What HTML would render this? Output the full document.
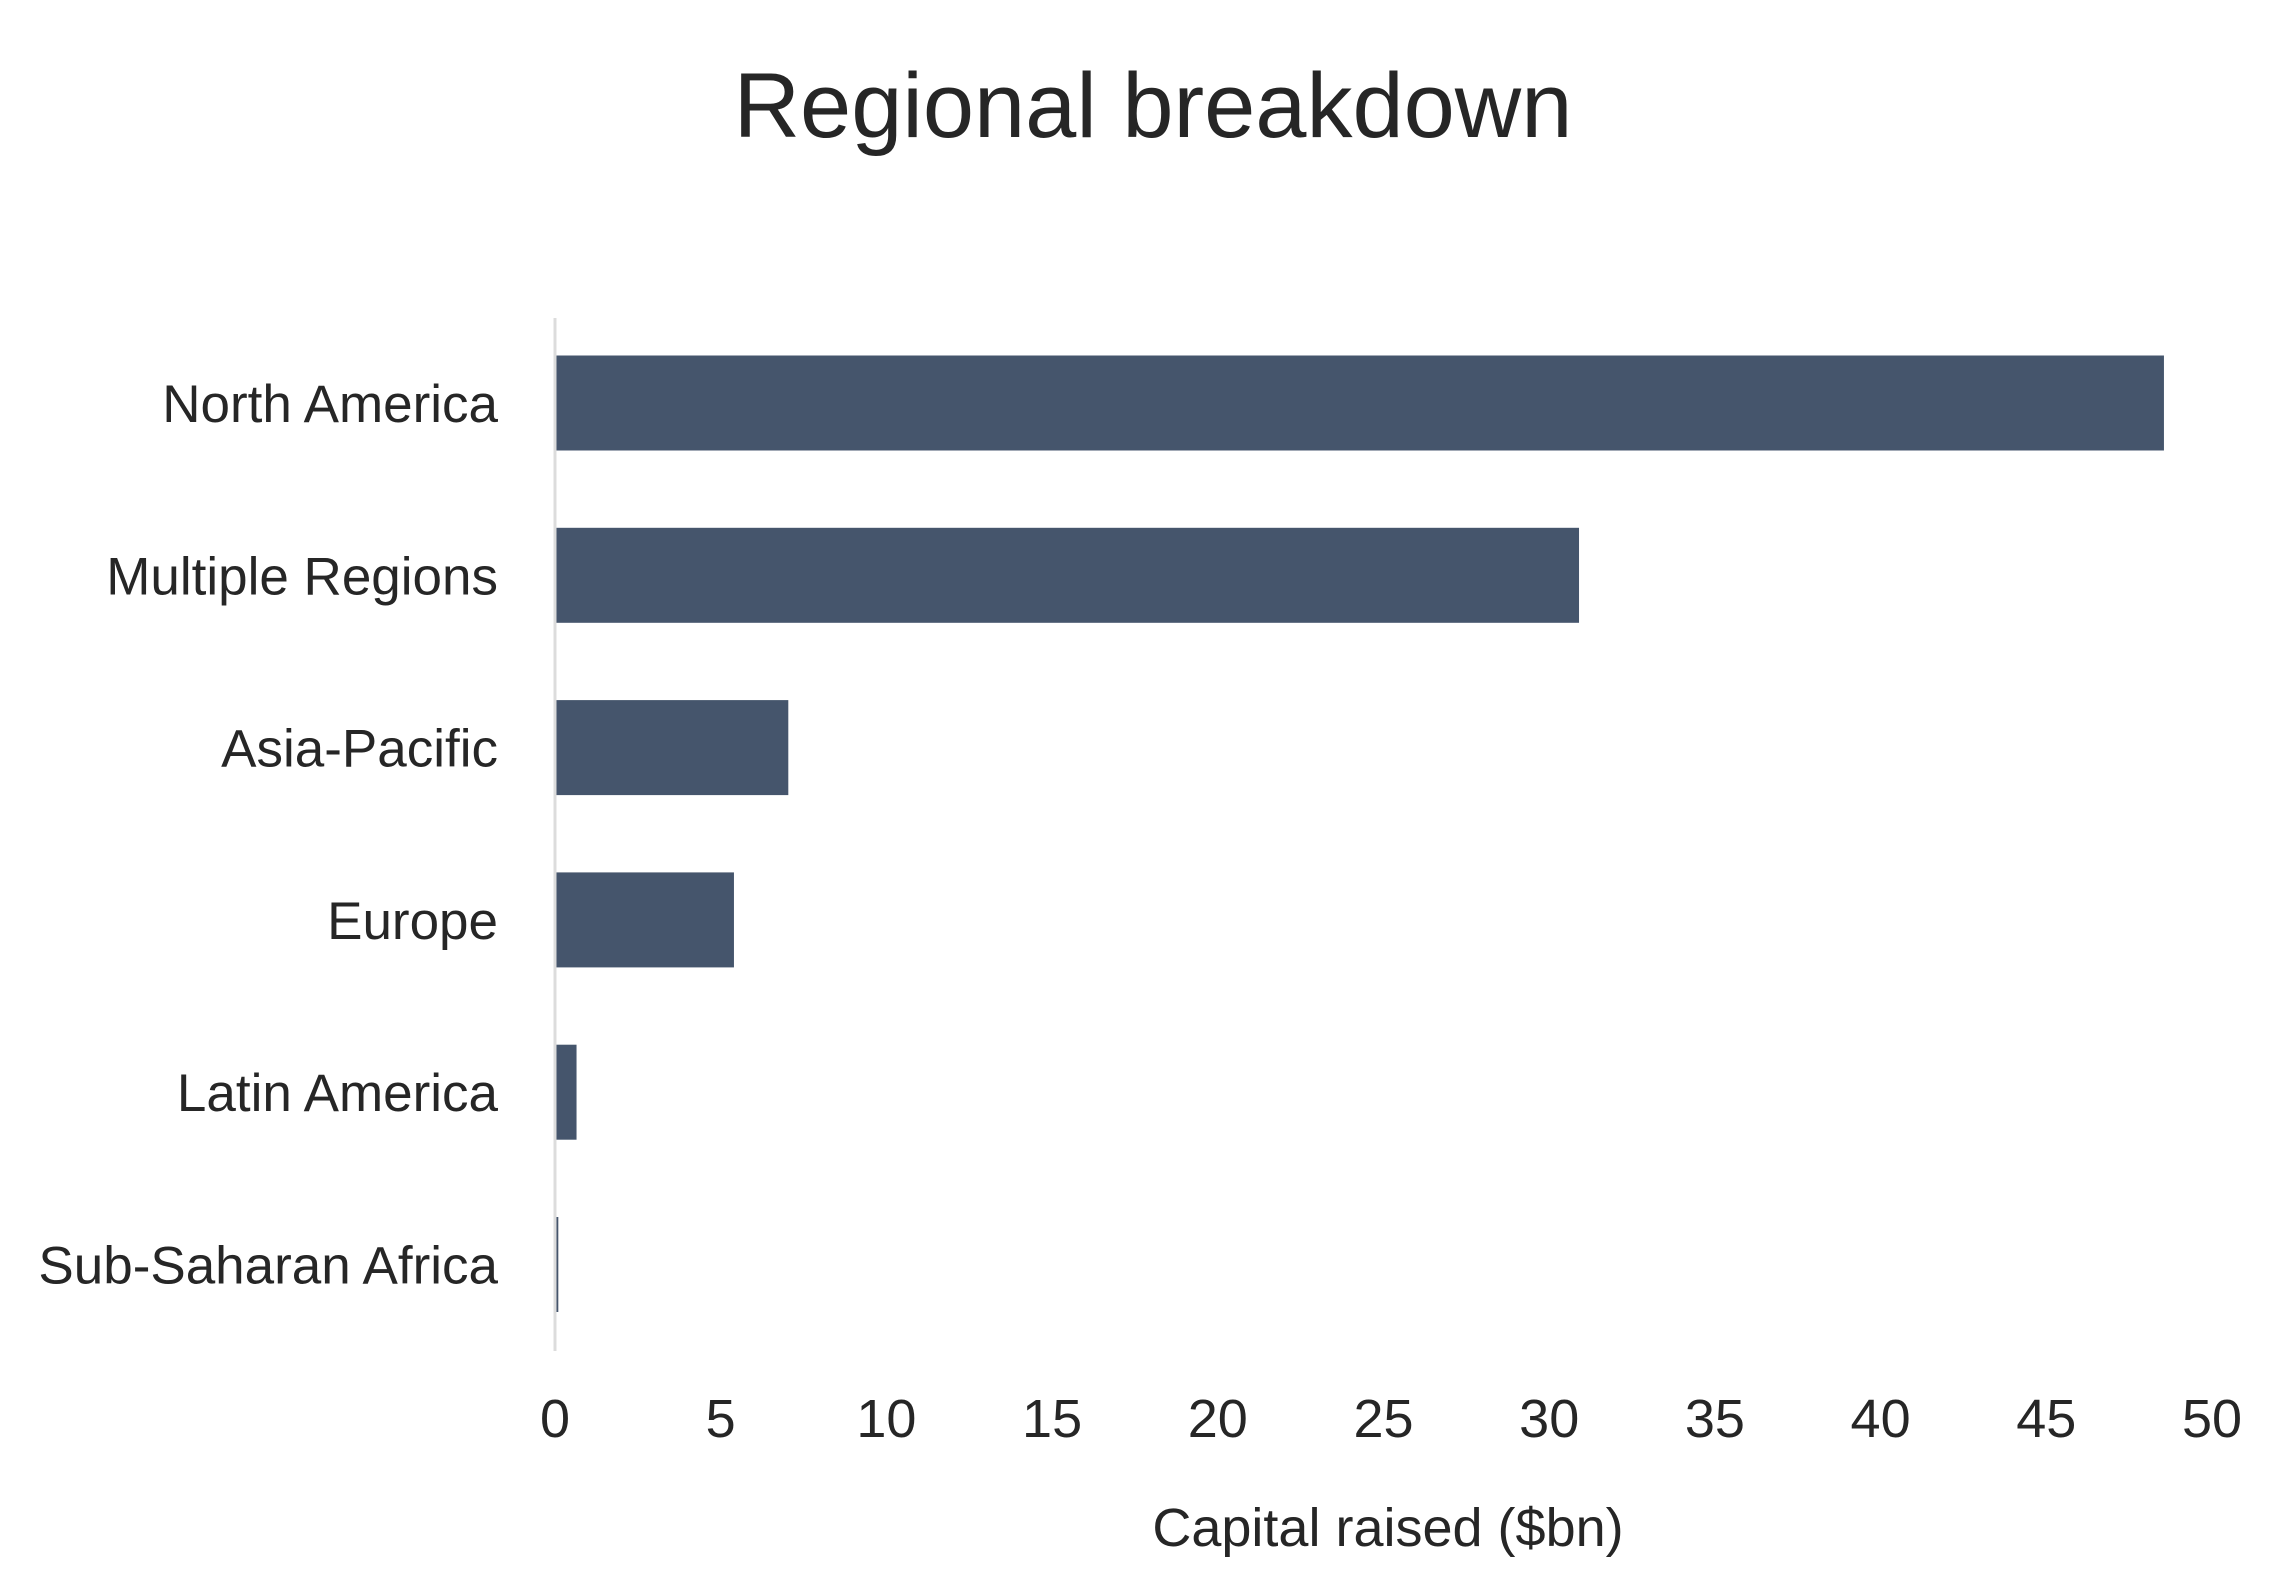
<!DOCTYPE html>
<html><head><meta charset="utf-8"><style>
html,body{margin:0;padding:0;background:#fff;}
svg{display:block;font-family:"Liberation Sans",sans-serif;}
</style></head><body>
<svg id="chart" width="2296" height="1585" viewBox="0 0 2296 1585">
<text x="1153" y="137" text-anchor="middle" font-size="92" fill="#262626">Regional breakdown</text>
<g id="bars"></g>
<g id="ylabels"></g>
<g id="xticks"></g>
<line x1="555" y1="318" x2="555" y2="1351" stroke="#dcdcdc" stroke-width="3"/>
<text x="1388" y="1546" text-anchor="middle" font-size="54" fill="#262626">Capital raised ($bn)</text>
</svg>
<script>
const categories = ["North America","Multiple Regions","Asia-Pacific","Europe","Latin America","Sub-Saharan Africa"];
const values = [48.55, 30.9, 7.04, 5.4, 0.65, 0.1];
const tickLabels = ["0","5","10","15","20","25","30","35","40","45","50"];
const NS="http://www.w3.org/2000/svg";
const x0=555, xMax=50, pxPerUnit=(2212-555)/50;
function xScale(v){return x0+v*pxPerUnit;}
function yCenter(i){return 403+i*172.3;}
const barH=95;
const bars=document.getElementById('bars'), yl=document.getElementById('ylabels'), xt=document.getElementById('xticks');
categories.forEach((c,i)=>{
  const r=document.createElementNS(NS,'rect');
  r.setAttribute('x',x0);
  r.setAttribute('y',yCenter(i)-barH/2);
  r.setAttribute('width',Math.max(1,xScale(values[i])-x0));
  r.setAttribute('height',barH);
  r.setAttribute('fill','#45556c');
  
  
  bars.appendChild(r);
  const t=document.createElementNS(NS,'text');
  t.setAttribute('x',498);
  t.setAttribute('y',yCenter(i)+19);
  t.setAttribute('text-anchor','end');
  t.setAttribute('font-size','53');
  t.setAttribute('fill','#262626');
  t.textContent=c;
  
  
  yl.appendChild(t);
});
tickLabels.forEach((l)=>{
  const t=document.createElementNS(NS,'text');
  t.setAttribute('x',xScale(parseFloat(l)));
  t.setAttribute('y',1437);
  t.setAttribute('text-anchor','middle');
  t.setAttribute('font-size','54');
  t.setAttribute('fill','#262626');
  t.textContent=l;
  
  
  xt.appendChild(t);
});
</script>
</body></html>
